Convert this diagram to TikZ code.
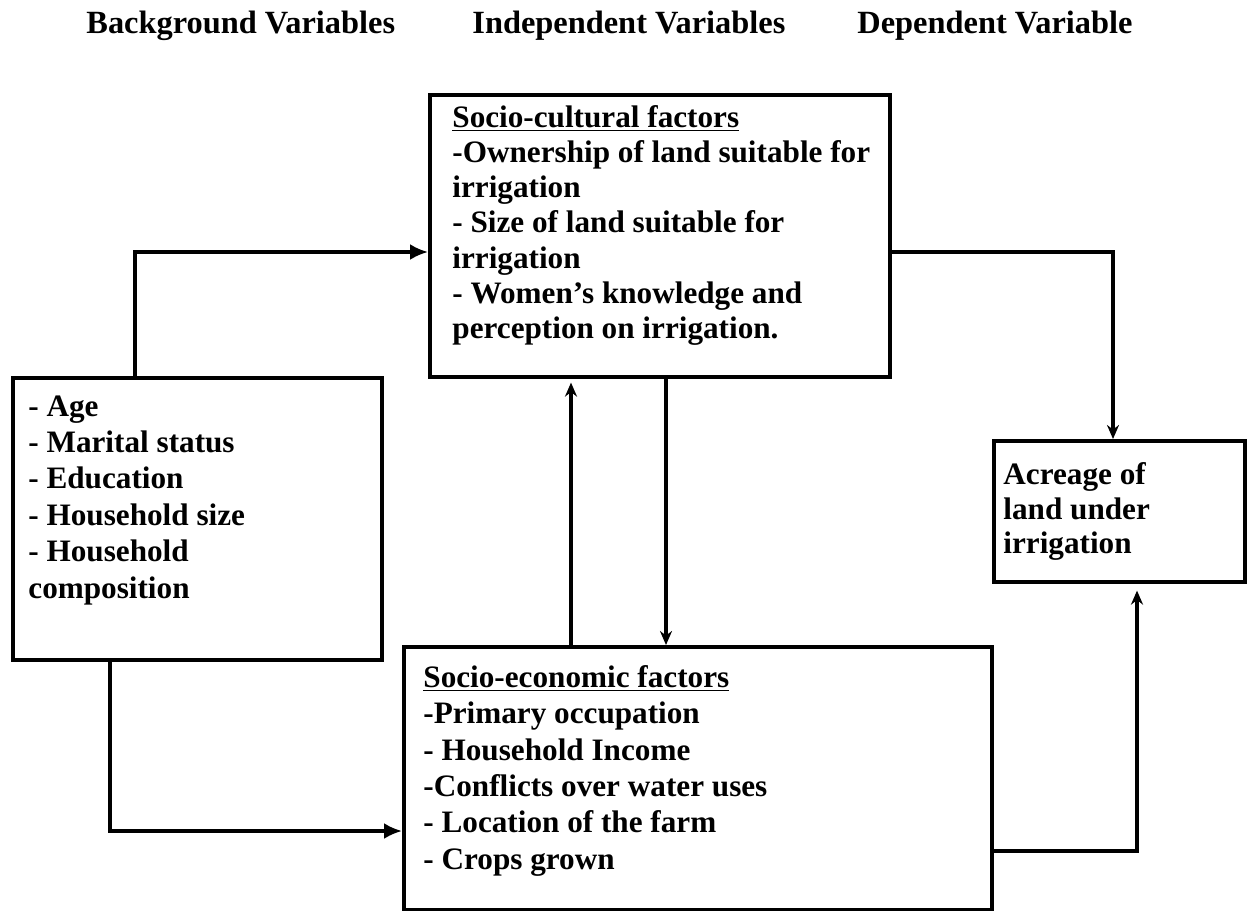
\documentclass[tikz,border=0pt]{standalone}
\usepackage{fontspec}
\setmainfont{Liberation Serif}
\usetikzlibrary{arrows.meta}
\def\bodyfont{\fontsize{15.6pt}{18.2pt}\selectfont\bfseries}
\tikzset{
  panel/.style={draw, line width=1.8pt, anchor=north west, inner sep=0pt},
  panel text/.style={anchor=north west, inner sep=0pt, align=left, font=\bodyfont},
  heading/.style={anchor=base west, inner sep=0pt, font=\fontsize{16.2pt}{18pt}\selectfont\bfseries},
  link/.style={line width=1.6pt, -{Latex[length=9pt,width=8pt]}},
  thin link/.style={line width=1.6pt, -{Stealth[length=7pt,width=6pt]}}
}

\begin{document}
\begin{tikzpicture}[x=0.5pt,y=-0.5pt]
   \useasboundingbox (0,0) rectangle (1247,910);
   % column headings
   \node[heading] (h back) at (86,33) {Background Variables};
   \node[heading] (h indep) at (472,33) {Independent Variables};
   \node[heading] (h dep) at (857,33) {Dependent Variable};
   % boxes
   \node[panel, minimum width=230pt, minimum height=141pt] (cultural) at (428,93) {};
   \node[panel, minimum width=184.5pt, minimum height=141pt] (background) at (11,376) {};
   \node[panel, minimum width=294pt, minimum height=131.5pt] (economic) at (402,645) {};
   \node[panel, minimum width=125.5pt, minimum height=70.5pt] (acreage) at (992,439) {};
   \node[panel text, font={\fontsize{15.6pt}{17.6pt}\selectfont\bfseries}] (cultural text) at (452,105)
      {\underline{Socio-cultural factors}\\-Ownership of land suitable for\\irrigation\\- Size of land suitable for\\irrigation\\- Women’s knowledge and\\perception on irrigation.};
   \node[panel text] (background text) at (28,395)
      {- Age\\- Marital status\\- Education\\- Household size\\- Household\\composition};
   \node[panel text] (economic text) at (423,665)
      {\underline{Socio-economic factors}\\-Primary occupation\\- Household Income\\-Conflicts over water uses\\- Location of the farm\\- Crops grown};
   \node[panel text, font={\fontsize{15.6pt}{17.4pt}\selectfont\bfseries}] (acreage text) at (1003,462)
      {Acreage of\\land under\\irrigation};
   % connectors
   \coordinate (back up) at ([xshift=62pt]background.north west);
   \coordinate (back down) at ([xshift=49.5pt]background.south west);
   \coordinate (cult in) at ([yshift=-79.5pt]cultural.north west);
   \coordinate (econ in) at ([yshift=-93pt]economic.north west);
   \coordinate (econ up) at ([xshift=84.5pt]economic.north west);
   \coordinate (cult down) at ([xshift=119pt]cultural.south west);
   \coordinate (cult out) at ([yshift=-79.5pt]cultural.north east);
   \coordinate (econ out) at ([yshift=-103pt]economic.north east);
   \coordinate (dep top) at ([xshift=60.5pt]acreage.north west);
   \coordinate (dep bottom) at ([xshift=72.5pt]acreage.south west);
   \draw[link] (back up) |- (cult in);
   \draw[link] (back down) |- (econ in);
   \draw[thin link, shorten >=2pt] (econ up) -- (econ up |- cultural.south);
   \draw[thin link] (cult down) -- (cult down |- economic.north);
   \draw[thin link] (cult out) -| (dep top);
   \draw[thin link, shorten >=3.5pt] (econ out) -| (dep bottom);
\end{tikzpicture}
\end{document}
